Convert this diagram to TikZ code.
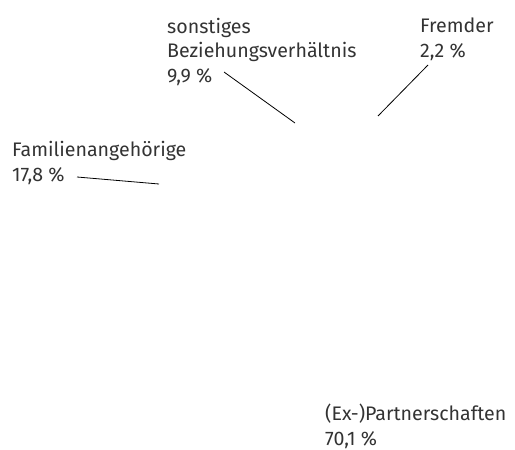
\documentclass[tikz,border=0pt]{standalone}
\usepackage{fontspec}
\setmainfont{Fira Sans}
\usepackage{tikz}

\tikzset{
    lbl/.style={anchor=base west, inner sep=0pt, align=left, text=black!80,
        font=\fontsize{19.6}{24.5}\selectfont},
    leader/.style={black, line width=0.8pt}
}

\begin{document}
\begin{tikzpicture}[x=1pt, y=-1pt]

\useasboundingbox (0,0) rectangle (515,450);

% base = baseline of the last line
\node[lbl] (sonst) at (167, 82) {sonstiges\\Beziehungsverhältnis\\9,9 \%};
\node[lbl] (fremd) at (420, 57) {Fremder\\2,2 \%};
\node[lbl] (famil) at (12, 181) {Familienangehörige\\17,8 \%};
\node[lbl] (partn) at (325, 445) {(Ex-)Partnerschaften\\70,1 \%};

\coordinate (sonstA) at (224, 72);
\coordinate (sonstB) at (295, 123);
\coordinate (fremdA) at (428, 65);
\coordinate (fremdB) at (378, 116);
\coordinate (familA) at (77, 177);
\coordinate (familB) at (159, 184);

\draw[leader] (sonstA) -- (sonstB);
\draw[leader] (fremdA) -- (fremdB);
\draw[leader] (familA) -- (familB);

\end{tikzpicture}
\end{document}
